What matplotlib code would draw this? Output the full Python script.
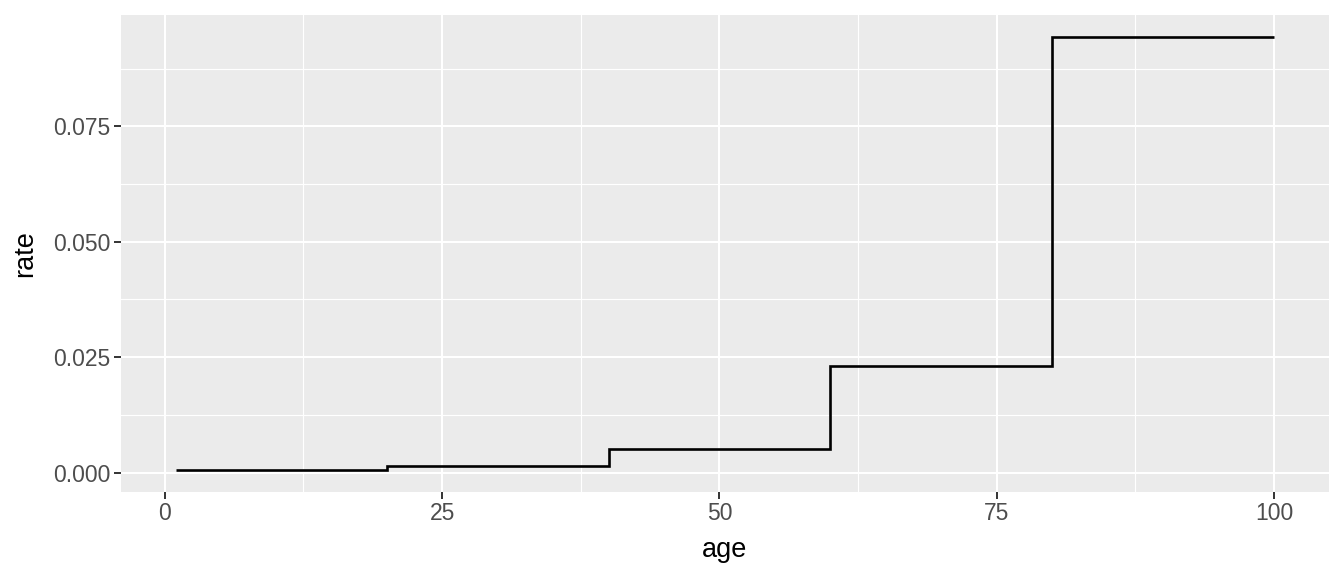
import matplotlib
matplotlib.use("Agg")
import matplotlib.pyplot as plt
from matplotlib.ticker import FixedLocator

age = [1, 20, 40, 60, 80, 100]
rate = [0.0005, 0.0014, 0.0051, 0.0230, 0.0944, 0.0944]
x_ticks = [0, 25, 50, 75, 100]
x_minor = [12.5, 37.5, 62.5, 87.5]
y_ticks = [0.000, 0.025, 0.050, 0.075]
y_minor = [0.0125, 0.0375, 0.0625, 0.0875]
y_tick_labels = ["0.000", "0.025", "0.050", "0.075"]

plt.rcParams['font.family'] = ['Liberation Sans', 'DejaVu Sans']

fig = plt.figure(figsize=(13.44, 5.76), dpi=100)
ax = fig.add_axes([121/1344, 1 - 492/576, (1329-121)/1344, (492-15)/576])
ax.set_facecolor('#EBEBEB')
for s in ax.spines.values():
    s.set_visible(False)

ax.step(age, rate, where='post', color='black', lw=1.9, zorder=3,
        solid_joinstyle='miter', solid_capstyle='butt')

xr = max(age) - min(age)
ax.set_xlim(min(age) - 0.05*xr, max(age) + 0.05*xr)
yr = max(rate) - min(rate)
ax.set_ylim(min(rate) - 0.05*yr, max(rate) + 0.05*yr)

ax.set_xticks(x_ticks)
ax.set_yticks(y_ticks)
ax.set_yticklabels(y_tick_labels)
ax.xaxis.set_minor_locator(FixedLocator(x_minor))
ax.yaxis.set_minor_locator(FixedLocator(y_minor))
ax.grid(which='major', color='white', lw=1.5, zorder=1)
ax.grid(which='minor', color='white', lw=0.8, zorder=1)
ax.set_axisbelow(True)
ax.tick_params(which='major', length=5, width=1.4, color='#333333',
               labelcolor='#4D4D4D', labelsize=16.5, pad=2.5)
ax.tick_params(which='minor', length=0)

ax.set_xlabel('age', fontsize=19.5, color='black', labelpad=8)
ax.set_ylabel('rate', fontsize=19.5, color='black', labelpad=11)

fig.savefig('out.png', dpi=100, facecolor='white')
